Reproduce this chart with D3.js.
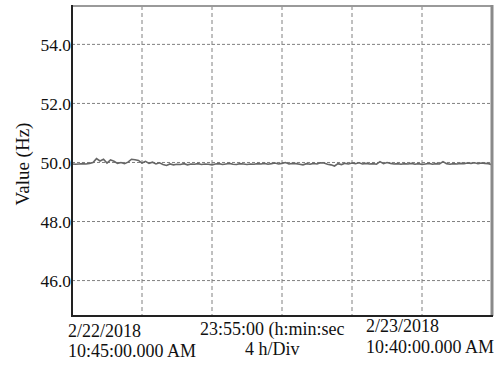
<!DOCTYPE html>
<html><head><meta charset="utf-8">
<script src="https://cdn.jsdelivr.net/npm/d3@7"></script>
<style>html,body{margin:0;padding:0;background:#fff}svg{display:block}text{font-family:"Liberation Serif","Times New Roman",serif;fill:#111}</style>
</head><body>
<script>
const yTicks = [46, 48, 50, 52, 54];
const yTickLabels = ["46.0", "48.0", "50.0", "52.0", "54.0"];
const xDivisions = [0, 1, 2, 3, 4, 5, 6];
const yLabel = "Value (Hz)";
const xLabelsLeft = ["2/22/2018", "10:45:00.000 AM"];
const xLabelsMid = ["23:55:00 (h:min:sec", "4 h/Div"];
const xLabelsRight = ["2/23/2018", "10:40:00.000 AM"];
const values = [
 49.95,49.94,49.95,49.96,49.95,49.97,50.00,50.13,50.05,50.11,49.98,50.09,
 50.04,49.97,50.00,49.96,50.01,50.11,50.09,50.07,49.98,50.04,49.97,50.01,
 49.95,49.99,49.93,49.90,49.95,49.92,49.94,49.93,49.96,49.92,49.95,49.94,
 49.96,49.93,49.95,49.94,49.92,49.95,49.96,49.93,49.95,49.97,49.94,49.93,
 49.96,49.95,49.93,49.95,49.94,49.96,49.95,49.97,49.94,49.96,49.98,49.95,
 49.97,50.00,49.95,49.97,49.96,49.94,49.92,49.96,49.94,49.97,49.95,49.99,
 49.98,49.94,49.92,49.88,49.96,49.93,49.97,49.95,49.98,49.96,49.99,49.95,
 49.97,49.95,49.96,49.94,50.03,49.96,50.00,49.97,49.95,49.96,49.94,49.96,
 49.95,49.97,49.94,49.96,49.93,49.95,49.97,49.94,49.96,49.95,50.03,49.96,
 49.94,49.96,49.95,49.97,49.96,49.98,49.97,49.99,49.96,49.98,49.97,49.96,49.92
];

const W = 500, H = 365;
const m = {left: 72, top: 6, right: 492, bottom: 316};
const svg = d3.select("body").append("svg").attr("width", W).attr("height", H);

const x = d3.scaleLinear().domain([0, values.length - 1]).range([m.left, m.right]);
const xDiv = d3.scaleLinear().domain([0, 6]).range([m.left, m.right]);
const y = d3.scaleLinear().domain([44.8, 55.3]).range([m.bottom, m.top]);

// grid
svg.append("g").selectAll("line").data(yTicks).join("line")
  .attr("x1", m.left).attr("x2", m.right)
  .attr("y1", d => y(d)).attr("y2", d => y(d))
  .attr("stroke", "#808080").attr("stroke-width", 1).attr("stroke-dasharray", "3,2");
svg.append("g").selectAll("line").data(xDivisions.slice(1, 6)).join("line")
  .attr("x1", d => xDiv(d)).attr("x2", d => xDiv(d))
  .attr("y1", m.top).attr("y2", m.bottom)
  .attr("stroke", "#808080").attr("stroke-width", 1).attr("stroke-dasharray", "4,3");

// data line
svg.append("path").datum(values)
  .attr("fill", "none").attr("stroke", "#666").attr("stroke-width", 1.6)
  .attr("d", d3.line().x((d, i) => x(i)).y(d => y(d)));

// frame
svg.append("line").attr("x1", m.left).attr("x2", m.right).attr("y1", m.top).attr("y2", m.top)
  .attr("stroke", "#9a9a9a").attr("stroke-width", 2);
svg.append("line").attr("x1", m.right).attr("x2", m.right).attr("y1", m.top - 1).attr("y2", m.bottom)
  .attr("stroke", "#8a8a8a").attr("stroke-width", 3);
svg.append("line").attr("x1", m.left).attr("x2", m.right + 1).attr("y1", m.bottom).attr("y2", m.bottom)
  .attr("stroke", "#222").attr("stroke-width", 2);
svg.append("line").attr("x1", m.left).attr("x2", m.left).attr("y1", m.top - 1).attr("y2", m.bottom + 1)
  .attr("stroke", "#222").attr("stroke-width", 2);

// y tick labels
svg.append("g").selectAll("text").data(yTicks).join("text")
  .attr("x", m.left - 1).attr("y", d => y(d)).attr("dy", "0.38em")
  .attr("text-anchor", "end").attr("font-size", 17.5)
  .text((d, i) => yTickLabels[i]);

// y label
svg.append("text").attr("transform", "translate(29,164) rotate(-90)")
  .attr("text-anchor", "middle").attr("font-size", 19).text(yLabel);

// x labels
const xl = svg.append("g").attr("font-size", 18);
xl.append("text").attr("x", 68).attr("y", 337).text(xLabelsLeft[0]);
xl.append("text").attr("x", 68).attr("y", 357).text(xLabelsLeft[1]);
xl.append("text").attr("x", 200).attr("y", 335).text(xLabelsMid[0]);
xl.append("text").attr("x", 245).attr("y", 355).text(xLabelsMid[1]);
xl.append("text").attr("x", 366).attr("y", 332).text(xLabelsRight[0]);
xl.append("text").attr("x", 366).attr("y", 353).text(xLabelsRight[1]);
</script>
</body></html>
